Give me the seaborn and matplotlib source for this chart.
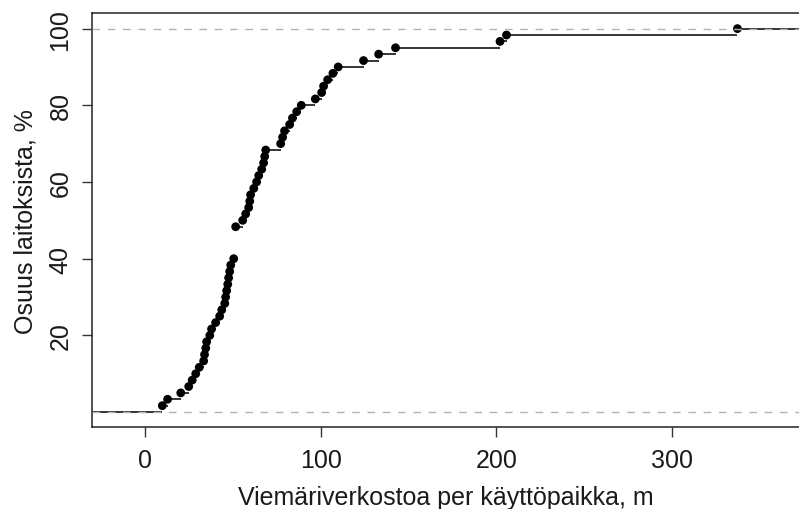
import numpy as np
import pandas as pd
import matplotlib
matplotlib.use("Agg")
import matplotlib.pyplot as plt
import seaborn as sns

# Sewer network length per connection (m), one value per utility
lengths = [10, 13, 20.5, 25, 27, 29, 31, 33.5, 34, 34.7, 35.2, 37, 38, 40.3,
           42.6, 43.8, 45.5, 46, 46.6, 47.2, 47.7, 48.3, 48.9, 50.6,
           51.7, 51.7, 51.7, 51.7, 51.7,
           55.7, 57.4, 59.1, 59.7, 60.2, 62, 63.6, 64.8, 66.5, 67.6, 68.2,
           68.8, 77.3, 78.4, 79.5, 82.4, 84, 86.4, 89, 97, 100.6, 101.7,
           104, 107, 110, 124.4, 133, 142.6, 202, 205.7, 337]

x_ticks = [0, 100, 200, 300]
y_ticks = [20, 40, 60, 80, 100]
x_label = "Viemäriverkostoa per käyttöpaikka, m"
y_label = "Osuus laitoksista, %"

sns.set_style("white")
plt.rcParams["font.family"] = ["Liberation Sans", "DejaVu Sans"]

# empirical cumulative distribution (percent) at each distinct value
vals = np.sort(np.array(lengths, dtype=float))
uniq, counts = np.unique(vals, return_counts=True)
cum = np.cumsum(counts) / len(vals) * 100
df = pd.DataFrame({"x": uniq, "F": cum})

xlim = (-30, 372)
ylim = (-4, 104)

fig = plt.figure(figsize=(7.99, 5.10), dpi=100)
ax = fig.add_axes([0.1151, 0.160, 1.0 - 0.1151, 0.972 - 0.160])

# horizontal step segments (no verticals)
starts = np.concatenate([[xlim[0]], uniq])
ends = np.concatenate([uniq, [xlim[1] + 10]])
levels = np.concatenate([[0.0], cum])
ax.hlines(levels, starts, ends, colors="black", linewidth=1.1, zorder=2)

sns.scatterplot(data=df, x="x", y="F", ax=ax, color="black", s=40,
                edgecolor="none", zorder=3, legend=False)

# reference lines at 0 % and 100 %
for h in (0, 100):
    ax.axhline(h, color="#B3B3B3", linewidth=1.0, linestyle=(0, (5.5, 5.5)), zorder=4)

fs = 18
ax.set_xlim(*xlim)
ax.set_ylim(*ylim)
ax.set_xticks(x_ticks)
ax.set_yticks(y_ticks)
ax.set_xticklabels([str(t) for t in x_ticks], fontsize=fs)
ax.set_yticklabels([str(t) for t in y_ticks], fontsize=fs, rotation=90, va="center")
ax.tick_params(axis="both", direction="out", length=7, width=1, color="#333333",
               labelcolor="#1a1a1a", bottom=True, left=True)
ax.tick_params(axis="x", pad=8)
ax.tick_params(axis="y", pad=7)

ax.set_xlabel(x_label, fontsize=fs, color="#1a1a1a", labelpad=9)
ax.set_ylabel(y_label, fontsize=fs, color="#1a1a1a", labelpad=8)

for side in ("left", "bottom", "top"):
    ax.spines[side].set_color("#222222")
    ax.spines[side].set_linewidth(1.1)
ax.spines["right"].set_visible(False)

fig.savefig("out.png", dpi=100)
